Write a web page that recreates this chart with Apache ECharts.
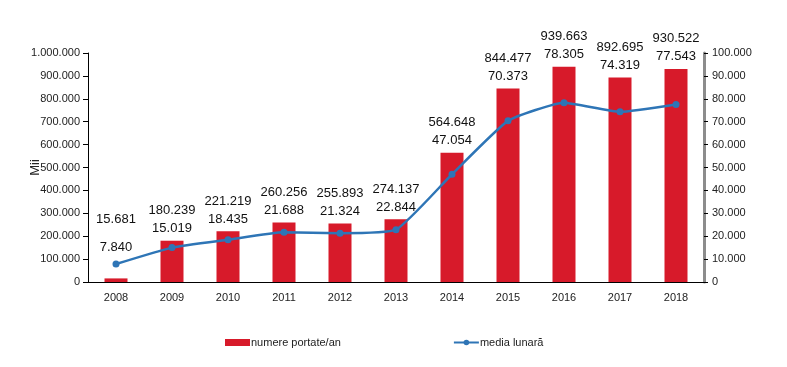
<!DOCTYPE html>
<html><head><meta charset="utf-8">
<script src="https://cdn.jsdelivr.net/npm/echarts@6/dist/echarts.min.js"></script>
<style>html,body{margin:0;padding:0;background:#fff}#c{width:787px;height:367px}</style>
</head><body><div id="c"></div>
<script>
const years = ['2008','2009','2010','2011','2012','2013','2014','2015','2016','2017','2018'];
const numerePortate = [15681,180239,221219,260256,255893,274137,564648,844477,939663,892695,930522];
const mediaLunara = [7840,15019,18435,21688,21324,22844,47054,70373,78305,74319,77543];
const leftTicksMax = 1000000, leftInterval = 100000;
const rightTicksMax = 100000, rightInterval = 10000;

function fmt(v){ return String(v).replace(/\B(?=(\d{3})+(?!\d))/g,'.'); }
const FONT = 'Liberation Sans';
const chart = echarts.init(document.getElementById('c'));
const barData = numerePortate.map((v,i)=>{
  const item = {value:v};
  if (i===0) item.label = {distance:17, rich:{a:{lineHeight:28},b:{lineHeight:28}}};
  return item;
});
chart.setOption({
  animation:false,
  textStyle:{fontFamily:FONT},
  grid:{left:88,right:83,top:53,bottom:85},
  legend:{
    left:220, top:332, itemGap:112, itemWidth:25, itemHeight:7,
    textStyle:{fontFamily:FONT,fontSize:11,color:'#222',padding:[0,0,0,-4]},
    data:[{name:'numere portate/an',icon:'rect'},{name:'media lunară'}]
  },
  xAxis:{
    type:'category', data:years,
    axisLine:{lineStyle:{color:'#000',width:1}},
    axisTick:{length:5,lineStyle:{color:'#000'}},
    axisLabel:{fontSize:11,color:'#222',margin:10,fontFamily:FONT}
  },
  yAxis:[{
    type:'value', min:0, max:leftTicksMax, interval:leftInterval,
    name:'Mii', nameLocation:'middle', nameRotate:90, nameGap:46, nameMoveOverlap:false,
    nameTextStyle:{fontSize:13,color:'#222',fontFamily:FONT},
    axisLine:{show:true,lineStyle:{color:'#000',width:1}},
    axisTick:{show:true,length:5,lineStyle:{color:'#000'}},
    splitLine:{show:false},
    axisLabel:{fontSize:11,color:'#222',margin:8,formatter:fmt,fontFamily:FONT}
  },{
    type:'value', min:0, max:rightTicksMax, interval:rightInterval, position:'right',
    axisLine:{show:true,lineStyle:{color:'#8c8c8c',width:3}},
    axisTick:{show:true,length:4,lineStyle:{color:'#000'}},
    splitLine:{show:false},
    axisLabel:{fontSize:11,color:'#222',margin:8,formatter:fmt,fontFamily:FONT}
  }],
  series:[{
    name:'numere portate/an', type:'bar', yAxisIndex:0, barWidth:23,
    itemStyle:{color:'#d71a2a'},
    data:barData,
    label:{
      show:true, position:'top', distance:3,
      formatter:(p)=>'{a|'+fmt(numerePortate[p.dataIndex])+'}\n{b|'+fmt(mediaLunara[p.dataIndex])+'}',
      rich:{a:{fontSize:13,color:'#111',lineHeight:18,fontFamily:FONT},b:{fontSize:13,color:'#111',lineHeight:18,fontFamily:FONT}}
    },
    z:2
  },{
    name:'media lunară', type:'line', yAxisIndex:1, smooth:0.15,
    data:mediaLunara, symbol:'circle', symbolSize:7,
    lineStyle:{color:'#2e75b6',width:2.5},
    itemStyle:{color:'#2e75b6'},
    z:3
  }]
});
</script></body></html>
